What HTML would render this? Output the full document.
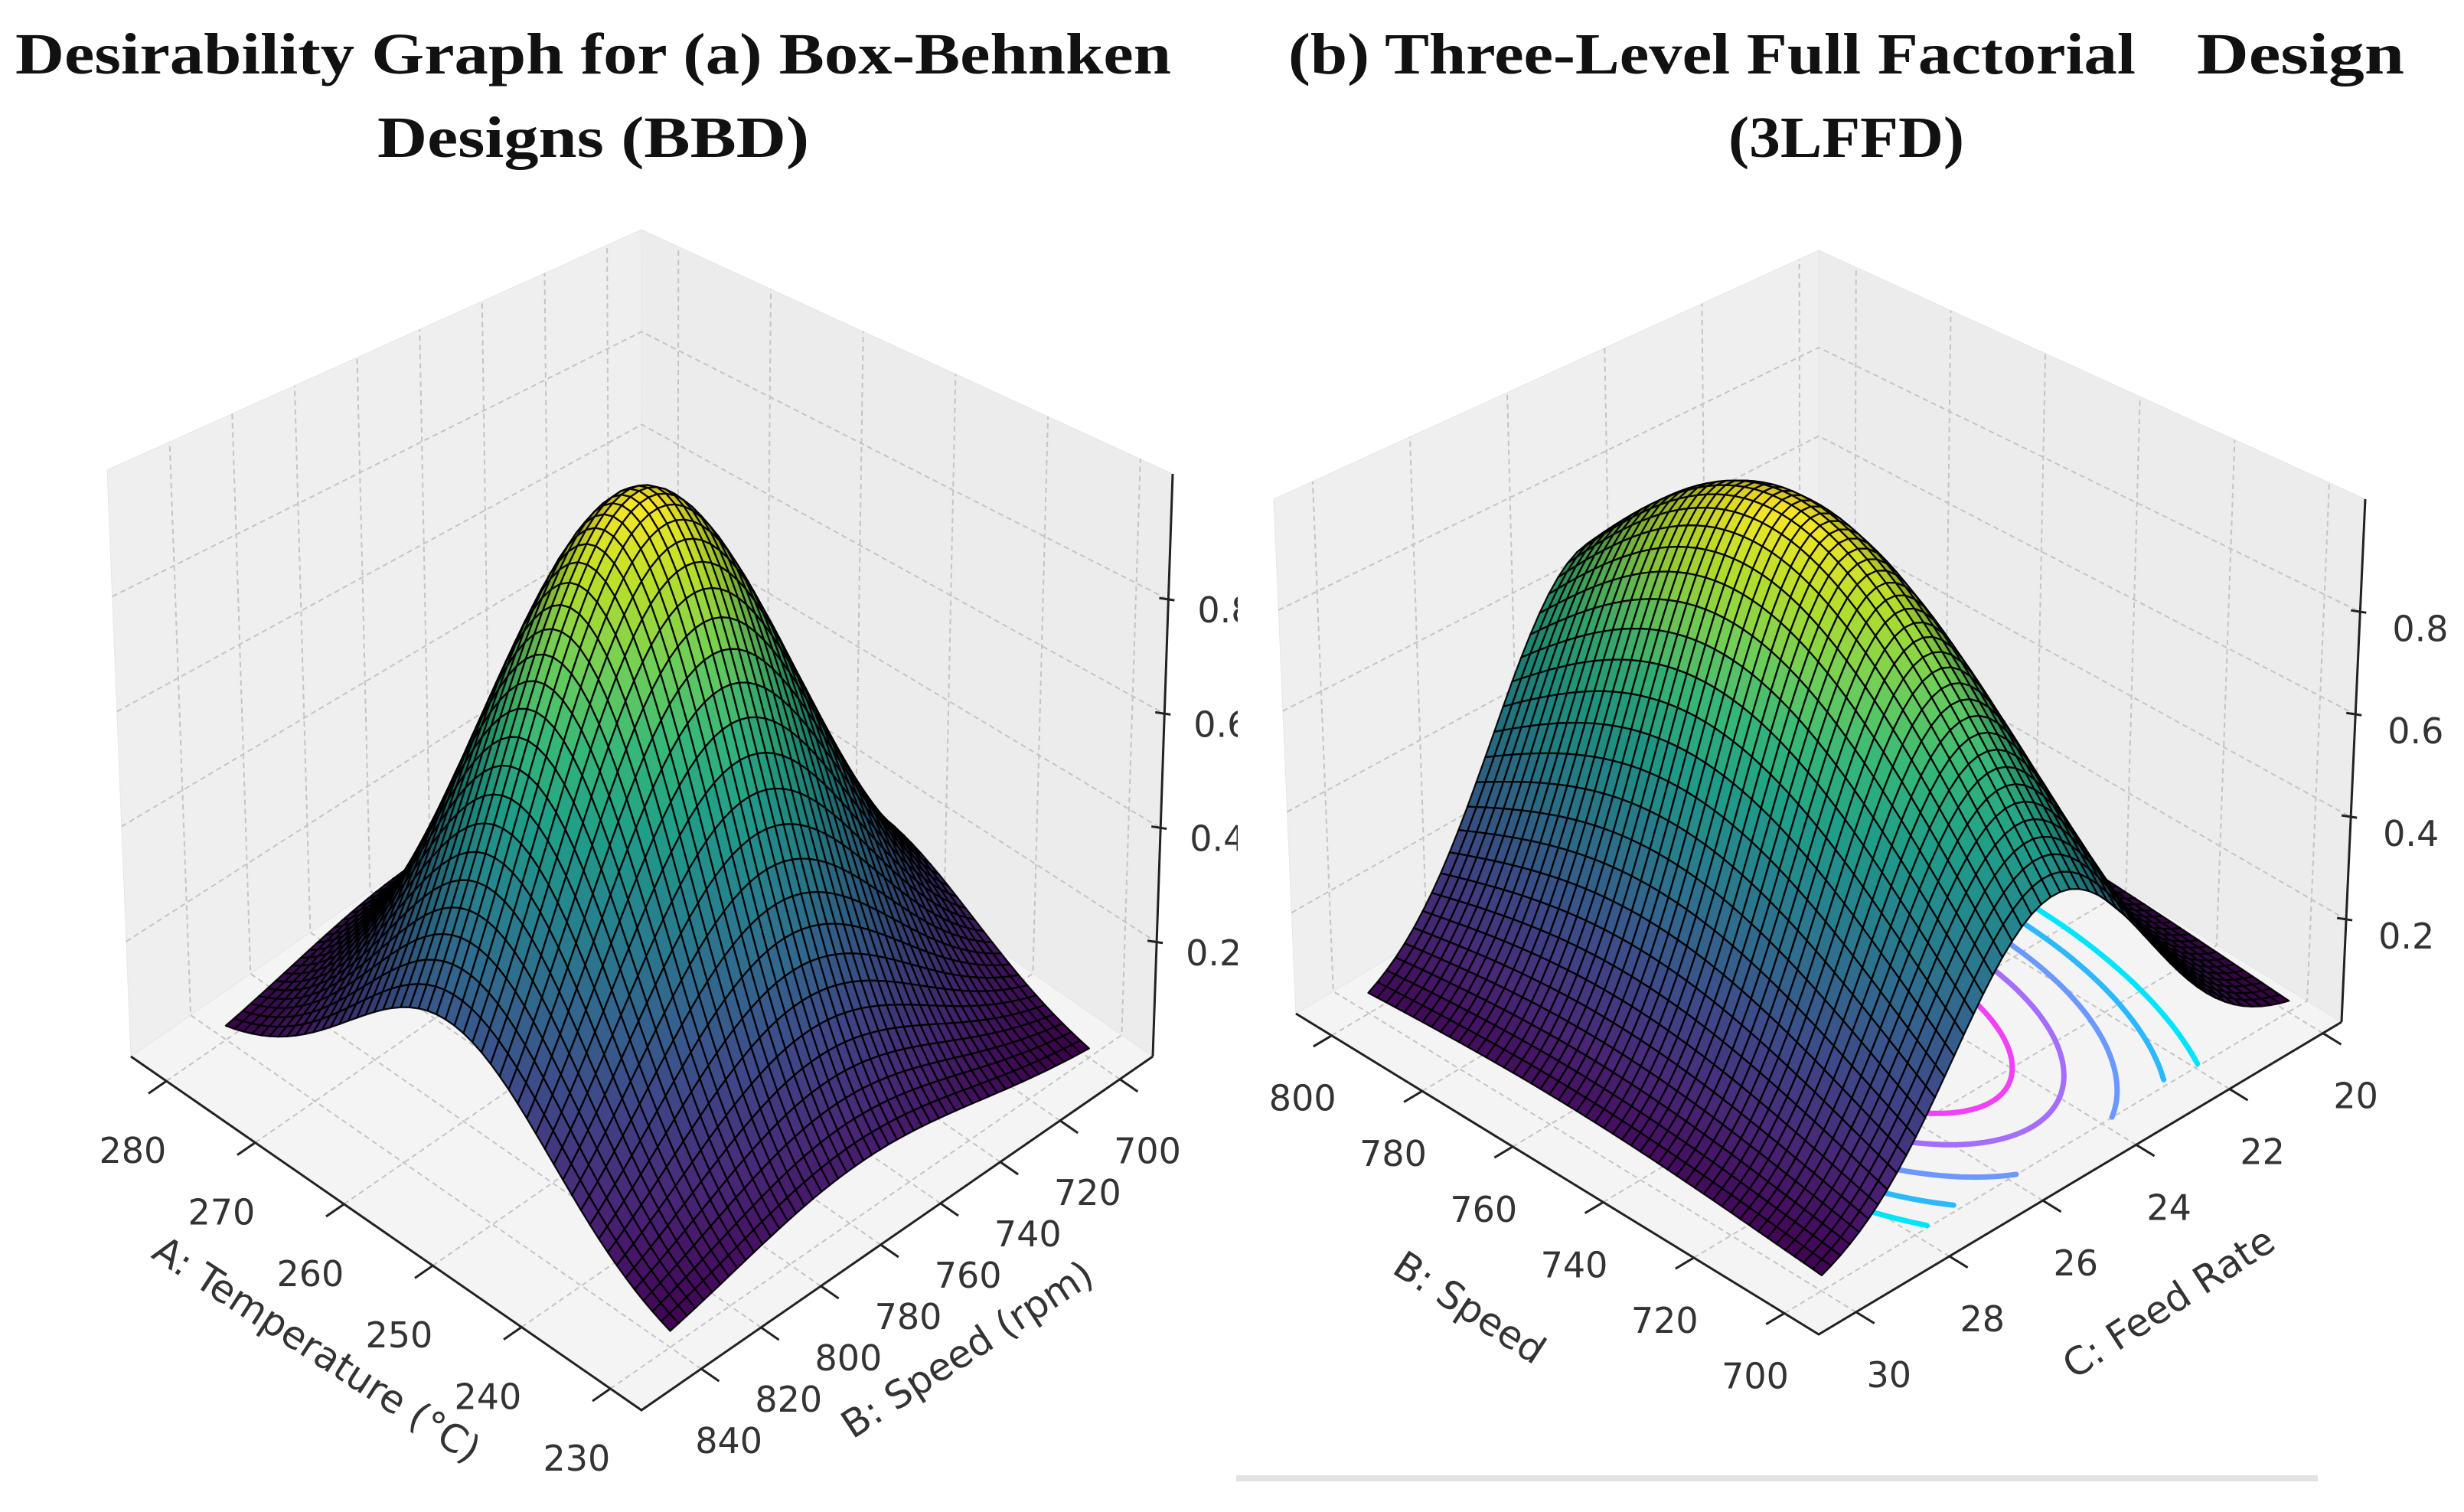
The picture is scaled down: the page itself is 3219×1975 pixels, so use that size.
<!DOCTYPE html>
<html><head><meta charset="utf-8">
<style>
html,body{margin:0;padding:0;background:#fff;}
svg{display:block;}
text{font-family:"DejaVu Sans","Liberation Sans",sans-serif;}
.ttl{font-family:"Liberation Serif",serif;font-weight:bold;fill:#111;}
</style></head>
<body>
<svg id="root" width="3219" height="1975" viewBox="0 0 3219 1975" xmlns="http://www.w3.org/2000/svg">
<defs><clipPath id="clipL"><rect x="0" y="0" width="1617" height="1975"/></clipPath></defs>
<text class="ttl" x="20" y="96" font-size="76" textLength="1510" lengthAdjust="spacingAndGlyphs">Desirability Graph for (a) Box-Behnken</text>
<text class="ttl" x="493" y="205" font-size="76" textLength="564" lengthAdjust="spacingAndGlyphs">Designs (BBD)</text>
<text class="ttl" x="1683" y="96" font-size="76" textLength="1107" lengthAdjust="spacingAndGlyphs">(b) Three-Level Full Factorial</text>
<text class="ttl" x="2870" y="96" font-size="76" textLength="271" lengthAdjust="spacingAndGlyphs">Design</text>
<text class="ttl" x="2258" y="205" font-size="76" textLength="308" lengthAdjust="spacingAndGlyphs">(3LFFD)</text>
<g id="chartL" clip-path="url(#clipL)"></g>
<g id="chartR"></g>
<rect x="1615" y="1927" width="1413" height="8" fill="#e2e2e2"/>
</svg>
<script>
// ---- data: (a) Box-Behnken ----
const zTicks = [0.2, 0.4, 0.6, 0.8];
const bbdTempTicks = [230, 240, 250, 260, 270, 280];
const bbdSpeedTicks = [700, 720, 740, 760, 780, 800, 820, 840];
const bbdTempRange = [230, 280];
const bbdSpeedRange = [700, 840];
const bbdTempDomain = [226.5, 284];   // front corner -> left corner
const bbdSpeedDomain = [860, 689];    // front corner -> right corner
const bbdPeakCenter = [255, 775];
const bbdPeakHeight = [0.99];
const bbdSpread = [16, 58];
// ---- data: (b) 3LFFD ----
const lffdSpeedTicks = [700, 720, 740, 760, 780, 800];
const lffdFeedTicks = [20, 22, 24, 26, 28, 30];
const lffdSpeedRange = [700, 800];
const lffdFeedRange = [20, 30];
const lffdSpeedDomain = [692.4, 807.9];
const lffdFeedDomain = [30.8, 19.6];
const lffdPeakCenter = [759, 25.1];
const lffdPeakHeight = [0.99];
const lffdSpread = [70, 2.9];
const contourCenter = [748, 24.8];
const contourSpeedRadii = [32, 41, 51, 61, 71];
const contourFeedRadii = [1.7, 2.4, 3.0, 3.5, 3.9];
const contourColors = ["#f040f8", "#a46cff", "#6a98ff", "#2cb8ff", "#00e4ff"];

const NS = "http://www.w3.org/2000/svg";
const VIR = [[68,1,84],[72,40,120],[62,73,137],[49,104,142],[38,130,142],[31,158,137],[53,183,121],[110,206,88],[181,222,43],[253,231,37]];
function viridis(t){t=Math.max(0,Math.min(1,t));const s=t*(VIR.length-1);const i=Math.min(VIR.length-2,Math.floor(s));const f=s-i;
  return VIR[i].map((c,k)=>c+(VIR[i+1][k]-c)*f);}
function mk(tag, attrs, parent){const e=document.createElementNS(NS,tag);for(const k in attrs)e.setAttribute(k,attrs[k]);parent.appendChild(e);return e;}

function buildChart(g, cfg){
  const C=cfg.corners;
  function floorPt(p,q,top){const a=top?C.F1:C.F0,b=top?C.L1:C.L0,c=top?C.R1:C.R0,d=top?C.B1:C.B0;
    return [a[0]*(1-p)*(1-q)+b[0]*p*(1-q)+c[0]*(1-p)*q+d[0]*p*q, a[1]*(1-p)*(1-q)+b[1]*p*(1-q)+c[1]*(1-p)*q+d[1]*p*q];}
  function P(p,q,z){const w=z/cfg.zTop;const f=floorPt(p,q,false),t=floorPt(p,q,true);return [f[0]+(t[0]-f[0])*w,f[1]+(t[1]-f[1])*w];}
  const pOf=v=>(v-cfg.pDom[0])/(cfg.pDom[1]-cfg.pDom[0]);
  const qOf=v=>(v-cfg.qDom[0])/(cfg.qDom[1]-cfg.qDom[0]);
  const pts=a=>a.map(x=>x[0].toFixed(1)+","+x[1].toFixed(1)).join(" ");
  let e;
  e=mk("polygon",{points:pts([C.L0,C.B0,C.B1,C.L1]),fill:"#efefef",stroke:"#e6e6e6"},g);
  
  
  e=mk("polygon",{points:pts([C.B0,C.R0,C.R1,C.B1]),fill:"#ececec",stroke:"#e6e6e6"},g);
  
  
  e=mk("polygon",{points:pts([C.F0,C.L0,C.B0,C.R0]),fill:"#f4f4f4",stroke:"#e6e6e6"},g);
  
  
  const grid=mk("g",{stroke:"#c4c4c4","stroke-width":2,"stroke-dasharray":"7,5",fill:"none"},g);
  
  
  cfg.zTicks.forEach(z=>{const a=P(1,0,z),b=P(1,1,z),c=P(0,1,z);mk("polyline",{points:pts([a,b,c])},grid);});
  cfg.pTicks.forEach(v=>{const p=pOf(v);mk("polyline",{points:pts([P(p,0,0),P(p,1,0),P(p,1,cfg.zTop)])},grid);});
  cfg.qTicks.forEach(v=>{const q=qOf(v);mk("polyline",{points:pts([P(0,q,0),P(1,q,0),P(1,q,cfg.zTop)])},grid);});
  if(cfg.contours){
    const cg=mk("g",{fill:"none","stroke-width":7,"stroke-linecap":"round"},g);
    
    
    cfg.contours.rs.forEach((rs,k)=>{const rf=cfg.contours.rf[k];let seg=[];const segs=[];
      for(let i=0;i<=180;i++){const a=i/180*2*Math.PI;const sv=cfg.contours.c[0]+rs*Math.cos(a),fv=cfg.contours.c[1]+rf*Math.sin(a);
        const inside=sv>=cfg.pRange[0]&&sv<=cfg.pRange[1]&&fv>=cfg.qRange[0]&&fv<=cfg.qRange[1];
        if(inside)seg.push(P(pOf(sv),qOf(fv),0));else if(seg.length){segs.push(seg);seg=[];}}
      if(seg.length)segs.push(seg);
      segs.forEach(s=>{const l=mk("polyline",{points:pts(s),stroke:cfg.contours.col[k]},cg);
        
        });
    });
  }
  const N=50;const sv=[];
  for(let i=0;i<=N;i++){sv.push([]);for(let j=0;j<=N;j++){
    const a=cfg.pRange[0]+(cfg.pRange[1]-cfg.pRange[0])*i/N, b=cfg.qRange[0]+(cfg.qRange[1]-cfg.qRange[0])*j/N;
    const z=cfg.height[0]*Math.exp(-Math.pow((a-cfg.center[0])/cfg.spread[0],2)-Math.pow((b-cfg.center[1])/cfg.spread[1],2));
    sv[i].push({p:pOf(a),q:qOf(b),z:z});}}
  let zmin=1e9,zmax=-1e9;sv.forEach(r=>r.forEach(o=>{zmin=Math.min(zmin,o.z);zmax=Math.max(zmax,o.z);}));
  const cells=[];const L=[-0.55,-0.55,0.63];
  for(let i=0;i<N;i++)for(let j=0;j<N;j++){
    const a=sv[i][j],b=sv[i+1][j],c=sv[i+1][j+1],d=sv[i][j+1];
    const dzp=((b.z+c.z)-(a.z+d.z))/2/(b.p-a.p), dzq=((d.z+c.z)-(a.z+b.z))/2/(d.q-a.q);
    const n=[-dzp*0.55,-dzq*0.55,1];const nl=Math.hypot(n[0],n[1],n[2]);
    const it=(n[0]*L[0]+n[1]*L[1]+n[2]*L[2])/nl;
    cells.push({pp:[a,b,c,d],depth:(a.p+c.p)+(a.q+c.q),zc:(a.z+b.z+c.z+d.z)/4,it:it});}
  let imin=1e9,imax=-1e9;cells.forEach(c=>{imin=Math.min(imin,c.it);imax=Math.max(imax,c.it);});
  cells.sort((x,y)=>y.depth-x.depth);
  const sg=mk("g",{stroke:"#000","stroke-width":2.3,"stroke-opacity":0.92,"stroke-linejoin":"round"},g);
  
  
  cells.forEach(c=>{const col=viridis((c.zc-zmin)/(zmax-zmin));
    const s=0.18+0.82*Math.pow((c.it-imin)/(imax-imin),0.9);const sh=Math.min(1,s*1.12);
    const pr=c.pp.map(o=>P(o.p,o.q,o.z));
    const el=mk("polygon",{points:pts(pr),fill:"rgb("+col.map(v=>Math.round(v*sh)).join(",")+")"},sg);
    
    });
  const ax=mk("g",{stroke:"#222","stroke-width":3,fill:"none"},g);
  
  
  mk("polyline",{points:pts([C.L0,C.F0,C.R0])},ax);
  mk("polyline",{points:pts([P(0,1,0),P(0,1,cfg.zTop)])},ax);
  const tg=mk("g",{fill:"#333","font-size":46,"text-anchor":"middle"},g);
  
  
  cfg.pTicks.forEach(v=>{const p=pOf(v);const a=P(p,0,0),b=P(p,-0.035,0);mk("line",{x1:a[0],y1:a[1],x2:b[0],y2:b[1]},ax);
    const t=mk("text",{x:a[0]+cfg.pOff[0],y:a[1]+cfg.pOff[1]+16},tg);t.textContent=v;
    
    });
  cfg.qTicks.forEach(v=>{const q=qOf(v);const a=P(0,q,0),b=P(-0.035,q,0);mk("line",{x1:a[0],y1:a[1],x2:b[0],y2:b[1]},ax);
    const t=mk("text",{x:a[0]+cfg.qOff[0],y:a[1]+cfg.qOff[1]+16},tg);t.textContent=v;
    
    });
  cfg.zTicks.forEach(z=>{const a=P(0,1,z);mk("line",{x1:a[0]-12,y1:a[1]-2,x2:a[0]+8,y2:a[1]+1},ax);
    const t=mk("text",{x:a[0]+cfg.zOff[0],y:a[1]+cfg.zOff[1],"text-anchor":"start"},tg);t.textContent=z.toFixed(1);
    
    });
  const mL=P(0.5,0,0),mR=P(0,0.5,0);
  let t=mk("text",{x:0,y:0,"font-size":50,fill:"#333","text-anchor":"middle",transform:"translate("+(mL[0]+cfg.pTitleOff[0])+","+(mL[1]+cfg.pTitleOff[1]+17)+") rotate(33)"},g);
  t.textContent=cfg.pTitle;
  
  
  t=mk("text",{x:0,y:0,"font-size":50,fill:"#333","text-anchor":"middle",transform:"translate("+(mR[0]+cfg.qTitleOff[0])+","+(mR[1]+cfg.qTitleOff[1]+17)+") rotate(-33)"},g);
  t.textContent=cfg.qTitle;
  
  
}

buildChart(document.getElementById("chartL"),{
  corners:{F0:[838,1842],L0:[171,1380],R0:[1506,1380],B0:[839,918],F1:[836,928],L1:[140,614],R1:[1532,619],B1:[838,300]},
  zTop:1.02, zTicks:zTicks, pTicks:bbdTempTicks, qTicks:bbdSpeedTicks,
  pDom:bbdTempDomain, qDom:bbdSpeedDomain, pRange:bbdTempRange, qRange:bbdSpeedRange,
  center:bbdPeakCenter, height:bbdPeakHeight, spread:bbdSpread,
  pOff:[-44,91], qOff:[36,94], zOff:[38,30],
  pTitle:"A: Temperature (°C)", qTitle:"B: Speed (rpm)", pTitleOff:[-100,149], qTitleOff:[101,149]
});
buildChart(document.getElementById("chartR"),{
  corners:{F0:[2376,1743],L0:[1693,1324],R0:[3059,1335],B0:[2376,916],F1:[2376,988],L1:[1664,652],R1:[3090,652],B1:[2376,327]},
  zTop:1.02, zTicks:zTicks, pTicks:lffdSpeedTicks, qTicks:lffdFeedTicks,
  pDom:lffdSpeedDomain, qDom:lffdFeedDomain, pRange:lffdSpeedRange, qRange:lffdFeedRange,
  center:lffdPeakCenter, height:lffdPeakHeight, spread:lffdSpread,
  contours:{c:contourCenter, rs:contourSpeedRadii, rf:contourFeedRadii, col:contourColors},
  pOff:[-38,82], qOff:[43,82], zOff:[42,38],
  pTitle:"B: Speed", qTitle:"C: Feed Rate", pTitleOff:[-124,172], qTitleOff:[125,160]
});
</script>
</body></html>
